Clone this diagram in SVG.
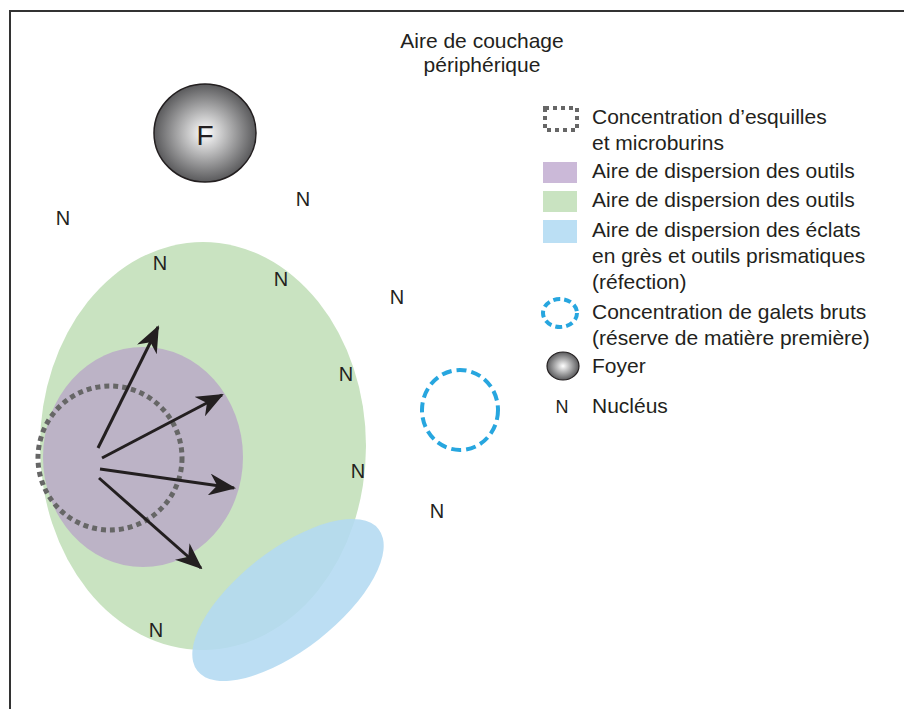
<svg xmlns="http://www.w3.org/2000/svg" width="904" height="709" viewBox="0 0 904 709">
<style>
text{font-family:"Liberation Sans",Arial,sans-serif;fill:#231f20}
.n{font-size:20px;text-anchor:middle}
.lg{font-size:21px}
.arrow{stroke:#231f20;stroke-width:3;fill:none;marker-end:url(#ah)}
</style>
<defs>
<radialGradient id="foyer" cx="0.5" cy="0.5" r="0.5">
<stop offset="0" stop-color="#ffffff"/>
<stop offset="1" stop-color="#5a5a5c"/>
</radialGradient>
<marker id="ah" viewBox="0 0 27 22" refX="25" refY="11" markerWidth="27" markerHeight="22" markerUnits="userSpaceOnUse" orient="auto">
<path d="M0,0 L27,11 L0,22 L8,11 Z" fill="#231f20"/>
</marker>
</defs>
<rect x="10" y="11" width="920" height="720" fill="#fff" stroke="#333" stroke-width="2"/>
<g id="title">
<text x="482" y="48" font-size="21" text-anchor="middle">Aire de couchage</text>
<text x="482" y="72" font-size="21" text-anchor="middle">périphérique</text>
</g>
<g id="green-area"><ellipse cx="203" cy="446" rx="163" ry="204" fill="#c9e3c1"/></g>
<g id="purple-area"><ellipse cx="143" cy="457" rx="100" ry="110" fill="#bcb3c6"/></g>
<g id="blue-area"><ellipse cx="288" cy="600" rx="115" ry="50" transform="rotate(-38 288 600)" fill="#b3daf1" fill-opacity="0.88"/></g>
<g id="esquilles"><circle cx="110" cy="458" r="72" fill="none" stroke="#666" stroke-width="5" stroke-dasharray="5 4"/></g>
<g id="galets"><ellipse cx="460" cy="410" rx="38" ry="40" fill="none" stroke="#27a6df" stroke-width="4" stroke-dasharray="10 5"/></g>
<g id="foyer-F">
<ellipse cx="205" cy="133" rx="51" ry="49" fill="url(#foyer)" stroke="#231f20" stroke-width="1.5"/>
<text x="205" y="145" font-size="28" text-anchor="middle">F</text>
</g>
<g id="connectors">
<line class="arrow" x1="98" y1="448" x2="158" y2="327"/>
<line class="arrow" x1="102" y1="458" x2="222" y2="395"/>
<line class="arrow" x1="100" y1="469" x2="234" y2="488"/>
<line class="arrow" x1="99" y1="478" x2="201" y2="568"/>
</g>
<g id="nucleus">
<text class="n" x="63" y="225">N</text>
<text class="n" x="303" y="206">N</text>
<text class="n" x="160" y="270">N</text>
<text class="n" x="281" y="286">N</text>
<text class="n" x="397" y="304">N</text>
<text class="n" x="346" y="381">N</text>
<text class="n" x="358" y="478">N</text>
<text class="n" x="437" y="518">N</text>
<text class="n" x="156" y="637">N</text>
</g>
<g id="legend">
<rect x="545" y="108" width="32" height="22" fill="none" stroke="#666" stroke-width="4" stroke-dasharray="4 4"/>
<rect x="543" y="162" width="34" height="21" fill="#cbb9d8"/>
<rect x="543" y="191" width="34" height="21" fill="#c9e3c1"/>
<rect x="543" y="220" width="34" height="23" fill="#bbdff4"/>
<ellipse cx="560" cy="313" rx="17" ry="14" fill="none" stroke="#27a6df" stroke-width="4" stroke-dasharray="7 4"/>
<ellipse cx="563" cy="366" rx="16" ry="14" fill="url(#foyer)" stroke="#231f20" stroke-width="1.2"/>
<text x="562" y="413" font-size="18" text-anchor="middle">N</text>
<text class="lg" x="592" y="124">Concentration d’esquilles</text>
<text class="lg" x="592" y="150">et microburins</text>
<text class="lg" x="592" y="178">Aire de dispersion des outils</text>
<text class="lg" x="592" y="207">Aire de dispersion des outils</text>
<text class="lg" x="592" y="237">Aire de dispersion des éclats</text>
<text class="lg" x="592" y="263">en grès et outils prismatiques</text>
<text class="lg" x="592" y="289">(réfection)</text>
<text class="lg" x="592" y="319">Concentration de galets bruts</text>
<text class="lg" x="592" y="345">(réserve de matière première)</text>
<text class="lg" x="592" y="373">Foyer</text>
<text class="lg" x="592" y="413">Nucléus</text>
</g>
</svg>
